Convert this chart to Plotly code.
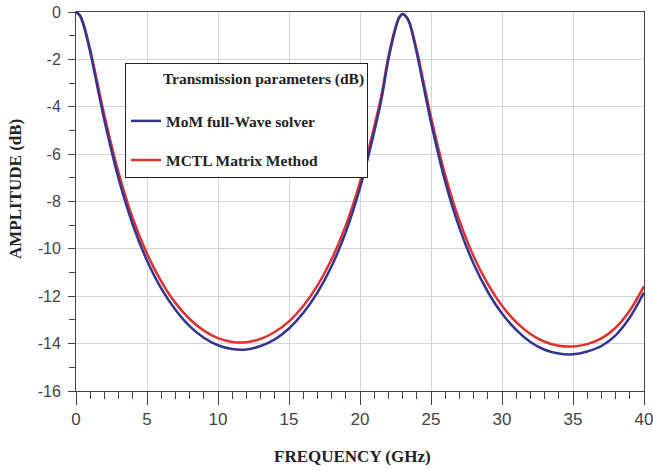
import plotly.graph_objects as go

freq = [0, 0.25, 0.5, 1, 1.5, 2, 3, 4, 5, 6, 7, 8, 9, 10, 11, 12, 13, 14, 15, 16, 17, 18,
        19, 20, 21, 21.5, 22, 22.5, 22.75, 23, 23.25, 23.5, 24, 24.5, 25, 26, 27, 28, 29,
        30, 31, 32, 33, 34, 35, 36, 37, 38, 39, 40]

mom_db = [0, -0.13, -0.49, -1.69, -3.14, -4.57, -7.04, -8.98, -10.49, -11.67, -12.57,
          -13.26, -13.75, -14.07, -14.23, -14.25, -14.10, -13.82, -13.36, -12.71, -11.85,
          -10.73, -9.29, -7.43, -5.06, -3.72, -2.0, -0.7, -0.25, -0.08, -0.2, -0.5, -1.73,
          -3.21, -4.66, -7.16, -9.11, -10.63, -11.81, -12.73, -13.42, -13.93, -14.26,
          -14.42, -14.45, -14.33, -14.1, -13.65, -12.9, -11.85]

mctl_db = [0, -0.12, -0.45, -1.59, -2.98, -4.37, -6.79, -8.71, -10.20, -11.37, -12.28,
           -12.96, -13.45, -13.77, -13.93, -13.94, -13.80, -13.51, -13.06, -12.41, -11.55,
           -10.44, -9.01, -7.18, -4.85, -3.54, -1.88, -0.65, -0.23, -0.08, -0.19, -0.46,
           -1.62, -3.03, -4.43, -6.88, -8.80, -10.31, -11.48, -12.40, -13.09, -13.59,
           -13.92, -14.09, -14.12, -14.02, -13.78, -13.33, -12.6, -11.58]

x_tickvals = [0, 5, 10, 15, 20, 25, 30, 35, 40]
x_ticktext = ["0", "5", "10", "15", "20", "25", "30", "35", "40"]
y_tickvals = [0, -2, -4, -6, -8, -10, -12, -14, -16]
y_ticktext = ["0", "-2", "-4", "-6", "-8", "-10", "-12", "-14", "-16"]

names = ["MoM full-Wave solver", "MCTL Matrix Method"]
legend_title = "Transmission parameters (dB)"
x_title = "FREQUENCY (GHz)"
y_title = "AMPLITUDE (dB)"

serif = "Liberation Serif, Times New Roman, serif"
sans = "Liberation Sans, Arial, sans-serif"

fig = go.Figure()
fig.add_trace(go.Scatter(x=freq, y=mctl_db, mode="lines", name=names[1],
                         line=dict(color="#e0312f", width=2.5, shape="spline", smoothing=0.8),
                         legendgroup="b", legendrank=2))
fig.add_trace(go.Scatter(x=freq, y=mom_db, mode="lines", name=names[0],
                         line=dict(color="#33348f", width=2.5, shape="spline", smoothing=0.8),
                         legendgroup="a", legendrank=1))

PL, PT, PW, PH = 76, 12, 568, 379
pad = "\u00a0" * 9
fig.update_layout(
    width=653, height=470, autosize=False,
    margin=dict(l=PL, r=653 - PL - PW, t=PT, b=470 - PT - PH),
    paper_bgcolor="white", plot_bgcolor="white",
    showlegend=True,
    legend=dict(
        x=(125 - PL) / PW, y=(PT + PH - 63) / PH, xanchor="left", yanchor="top",
        bgcolor="white", bordercolor="#222", borderwidth=1,
        title=dict(text=pad + "<b>" + legend_title + "</b><br> ", side="top",
                   font=dict(family=serif, size=15.5, color="#222")),
        font=dict(family=serif, size=15.5, color="#222", weight="bold"),
        tracegroupgap=16, itemwidth=30,
    ),
    xaxis=dict(
        range=[0, 40], tickmode="array", tickvals=x_tickvals, ticktext=x_ticktext,
        showgrid=True, gridcolor="#d4d4d4", gridwidth=1,
        showline=True, linecolor="#444", linewidth=1, mirror=True,
        ticks="outside", ticklen=13, tickwidth=1, tickcolor="#444",
        minor=dict(tickmode="linear", tick0=0, dtick=1, ticks="outside", ticklen=7,
                   tickcolor="#444", showgrid=False),
        tickfont=dict(family=sans, size=17, color="#444"),
        ticklabeloverflow="allow",
        zeroline=False, automargin=False,
    ),
    yaxis=dict(
        range=[-16, 0], tickmode="array", tickvals=y_tickvals, ticktext=y_ticktext,
        showgrid=True, gridcolor="#d4d4d4", gridwidth=1,
        showline=True, linecolor="#444", linewidth=1, mirror=True,
        ticks="outside", ticklen=7, tickwidth=1, tickcolor="#444",
        minor=dict(tickmode="linear", tick0=0, dtick=1, ticks="outside", ticklen=6,
                   tickcolor="#444", showgrid=False),
        tickfont=dict(family=sans, size=16, color="#444"),
        ticklabelstandoff=4, ticklabeloverflow="allow",
        zeroline=False, automargin=False,
    ),
    annotations=[
        dict(text="<b>" + x_title + "</b>", xref="paper", yref="paper",
             x=(352 - PL) / PW, y=-(456 - PT - PH) / PH, xanchor="center", yanchor="middle",
             showarrow=False, font=dict(family=serif, size=17, color="#222")),
        dict(text="<b>" + y_title + "</b>", xref="paper", yref="paper",
             x=-(PL - 15) / PW, y=(PT + PH - 189) / PH, xanchor="center", yanchor="middle",
             textangle=-90, showarrow=False, font=dict(family=serif, size=17, color="#222")),
    ],
)

fig.write_html("out.html",
               config={"displayModeBar": False},
               post_script="document.body.style.margin='0';document.body.style.overflow='hidden';")
